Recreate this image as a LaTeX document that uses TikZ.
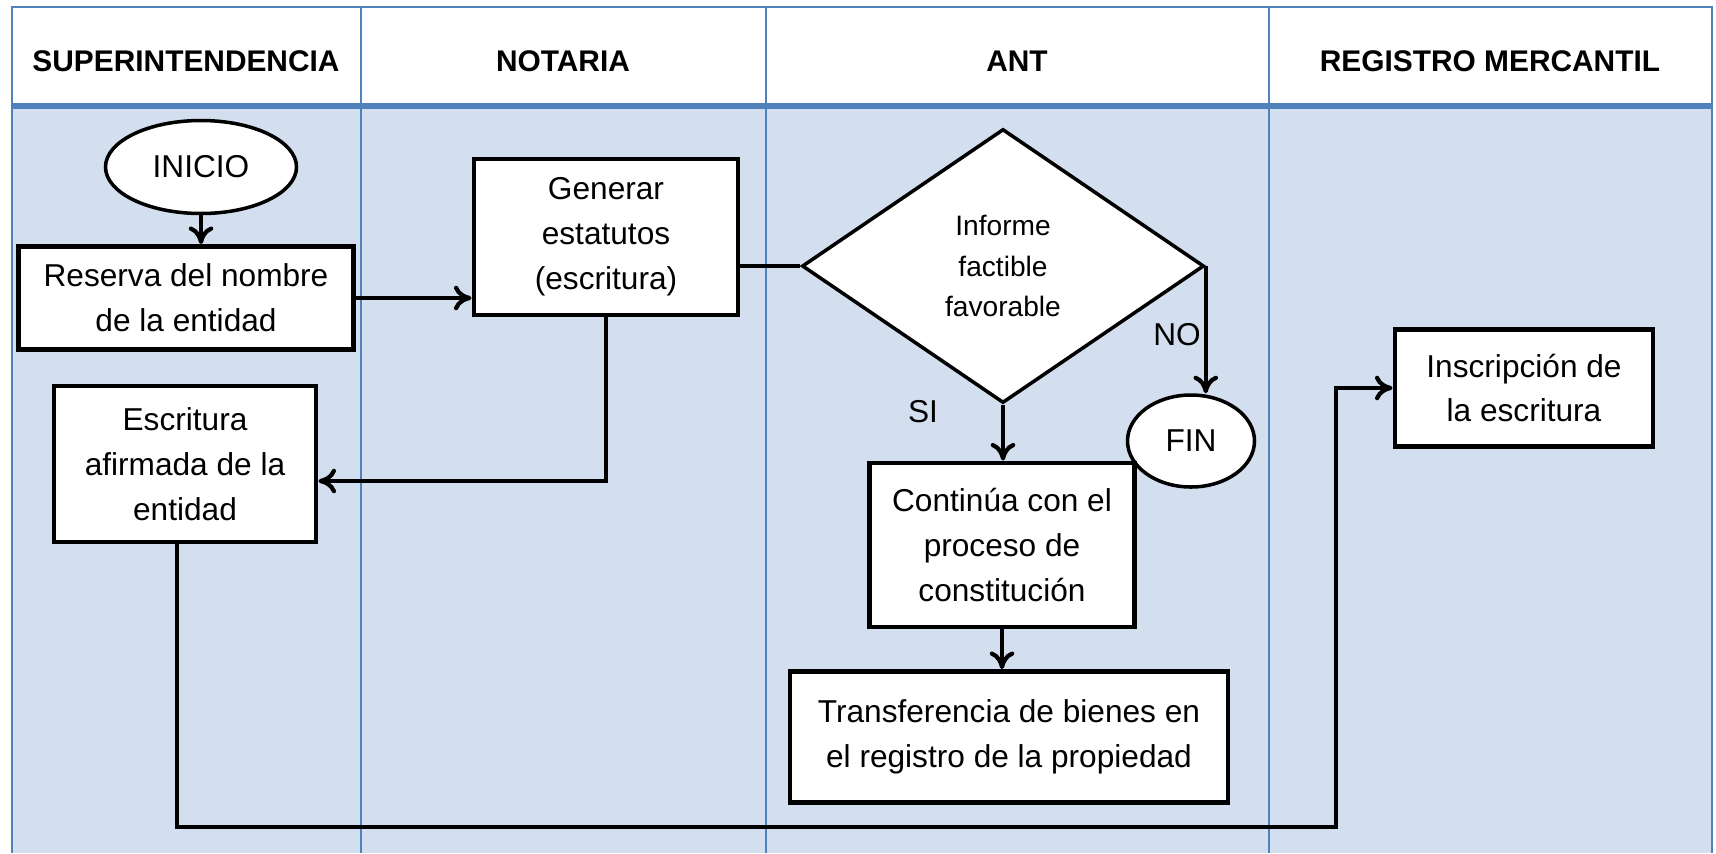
\documentclass[tikz,border=0pt]{standalone}
\usepackage{fontspec}
\setmainfont{Liberation Sans}
\usetikzlibrary{shapes.geometric, arrows.meta}
\definecolor{carril}{RGB}{211,222,238}
\definecolor{borde}{RGB}{79,129,189}

\begin{document}
\begin{tikzpicture}[
  x = 0.1mm, y = -0.1mm,
  every node/.style = {font = \fontsize{9}{12.8}\selectfont, align = center},
  caja/.style = {draw, fill = white, line width = 1.4pt, inner sep = 2pt},
  terminal/.style = {draw, fill = white, ellipse, line width = 1pt, inner sep = 0pt},
  pregunta/.style = {draw, fill = white, diamond, line width = 1pt, inner sep = 0pt,
                     font = \fontsize{8}{11.4}\selectfont},
  titulo/.style = {font = \bfseries\fontsize{8.5}{10}\selectfont},
  flecha/.style = {-{To[length = 5pt, width = 7pt]}, line width = 1.2pt},
  linea/.style = {line width = 1.2pt}
  ]
  \useasboundingbox (0,0) rectangle (1716,853);

  %carriles
  \fill[carril] (12,106) rectangle (1712,853);
  \draw[borde, line width = 0.8pt] (12,853) -- (12,7) -- (1712,7) -- (1712,853);
  \foreach \x in {361,766,1269}
    \draw[borde, line width = 0.8pt] (\x,7) -- (\x,853);
  \draw[borde, line width = 1.6pt] (12,106) -- (1712,106);

  \node[titulo] (super) at (186,61) {SUPERINTENDENCIA};
  \node[titulo] (notaria) at (563,61) {NOTARIA};
  \node[titulo] (ant) at (1017,61) {ANT};
  \node[titulo] (registro) at (1490,61) {REGISTRO MERCANTIL};

  %pasos
  \node[terminal, minimum width = 1.91cm, minimum height = 0.93cm] (inicio) at (201,167) {INICIO};
  \node[caja, minimum width = 3.35cm, minimum height = 1.03cm] (reserva) at (186,298)
    {Reserva del nombre\\de la entidad};
  \node[caja, minimum width = 2.62cm, minimum height = 1.56cm] (escritura) at (185,464)
    {Escritura\\afirmada de la\\entidad};
  \node[caja, minimum width = 2.64cm, minimum height = 1.56cm] (generar) at (606,237)
    {Generar\\estatutos\\(escritura)};
  \node[pregunta, minimum width = 4.02cm, minimum height = 2.74cm] (informe) at (1003,266)
    {Informe\\factible\\favorable};
  \node[terminal, minimum width = 1.27cm, minimum height = 0.92cm] (fin) at (1191,441) {FIN};
  \node[caja, minimum width = 2.65cm, minimum height = 1.64cm] (continua) at (1002,545)
    {Continúa con el\\proceso de\\constitución};
  \node[caja, minimum width = 4.38cm, minimum height = 1.31cm] (transfer) at (1009,737)
    {Transferencia de bienes en\\el registro de la propiedad};
  \node[caja, minimum width = 2.58cm, minimum height = 1.17cm] (inscripcion) at (1524,388)
    {Inscripción de\\la escritura};

  \node (no) at (1177,335) {NO};
  \node (si) at (923,412) {SI};

  %conectores
  \draw[flecha] (inicio.south) -- (inicio.south |- reserva.north);
  \draw[flecha] (reserva.east) -- (reserva.east -| generar.west);
  \draw[linea] (generar.east |- informe.west) -- (informe.west);
  \draw[flecha] (informe.east) -- (informe.east |- fin.north);
  \draw[flecha] (informe.south) -- (informe.south |- continua.north);
  \draw[flecha] (continua.south) -- (continua.south |- transfer.north);
  \draw[flecha] (generar.south) |- ([yshift = -0.17cm]escritura.east);
  \coordinate (giro) at (1336,827);
  \draw[flecha] (escritura.south -| 177,0) |- (giro) |- (inscripcion.west);
\end{tikzpicture}
\end{document}
